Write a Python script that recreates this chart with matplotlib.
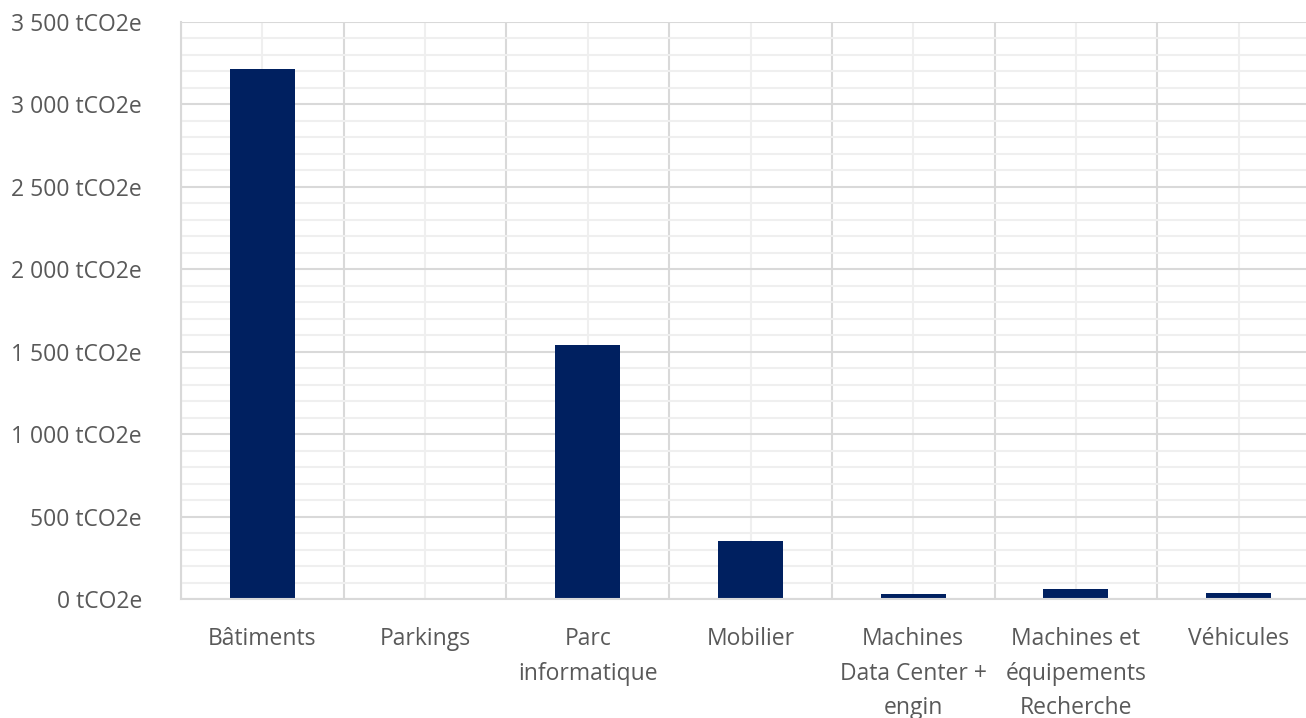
import matplotlib
matplotlib.use("Agg")
import matplotlib.pyplot as plt
from matplotlib.ticker import MultipleLocator, FuncFormatter
import numpy as np

categories = ["Bâtiments", "Parkings", "Parc\ninformatique", "Mobilier",
              "Machines\nData Center +\nengin", "Machines et\néquipements\nRecherche", "Véhicules"]
values = [3215, 0, 1541, 352, 32, 59, 36]

plt.rcParams['font.family'] = ['Open Sans', 'DejaVu Sans']
text_color = "#595959"

fig = plt.figure(figsize=(13.06, 7.18), dpi=100)
ax = fig.add_axes([181/1306, 119/718, 1139/1306, 577/718])

x = np.arange(len(categories))
ax.bar(x, values, width=0.4, color="#002060", zorder=3)

ax.set_xlim(-0.5, len(categories) - 0.5)
ax.set_ylim(0, 3500)
ax.yaxis.set_major_locator(MultipleLocator(500))
ax.yaxis.set_minor_locator(MultipleLocator(100))
ax.yaxis.set_major_formatter(FuncFormatter(lambda v, p: f"{int(v):,}".replace(",", " ") + " tCO2e"))

ax.set_xticks(x)
ax.set_xticklabels(categories, linespacing=1.6)
ax.set_xticks(np.arange(len(categories) + 1) - 0.5, minor=True)

ax.grid(True, which="minor", axis="y", color="#efefef", lw=1.5, zorder=0)
ax.grid(True, which="major", axis="y", color="#d9d9d9", lw=1.5, zorder=1)
ax.grid(True, which="major", axis="x", color="#efefef", lw=1.5, zorder=0)
ax.grid(True, which="minor", axis="x", color="#d9d9d9", lw=1.5, zorder=1)

for s in ["top", "right"]:
    ax.spines[s].set_visible(False)
ax.spines["left"].set_color("#d9d9d9")
ax.spines["left"].set_linewidth(1.5)
ax.spines["bottom"].set_color("#d9d9d9")
ax.spines["bottom"].set_linewidth(1.5)
ax.spines["bottom"].set_zorder(4)

ax.tick_params(axis="both", which="both", length=0, colors=text_color, labelsize=16.5)
ax.tick_params(axis="y", pad=28)
ax.tick_params(axis="x", pad=20)

fig.savefig("out.png", dpi=100)
